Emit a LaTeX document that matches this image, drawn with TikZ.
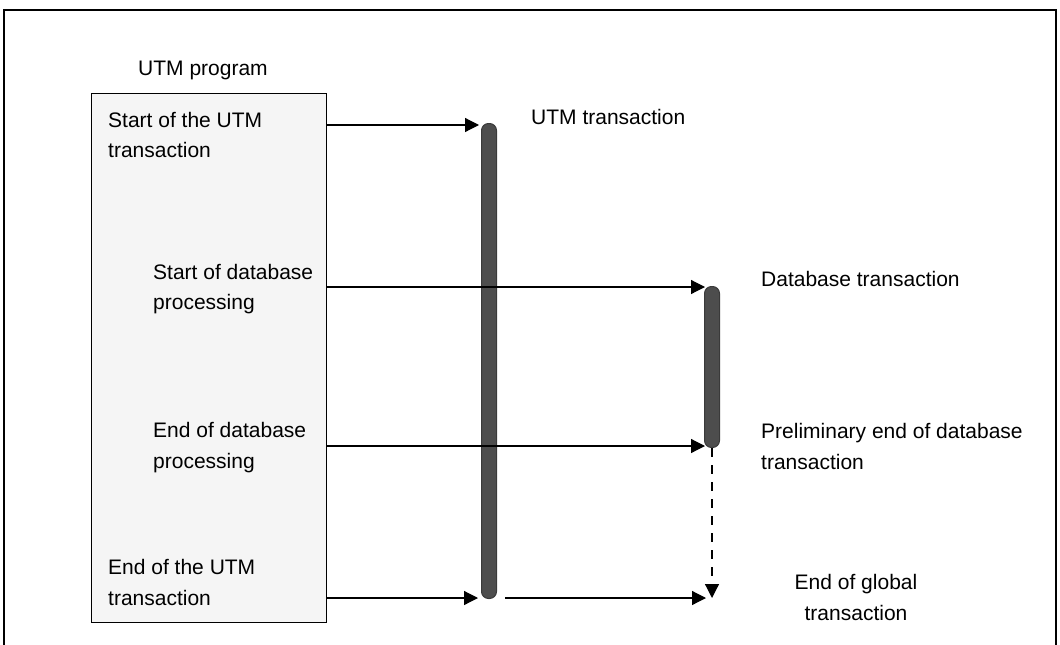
\documentclass[tikz,border=0pt]{standalone}
\usepackage{fontspec}
\setmainfont{Liberation Sans}
\usetikzlibrary{arrows.meta}
\definecolor{boxfill}{HTML}{F5F5F5}
\definecolor{barfill}{HTML}{4D4D4D}
\definecolor{barline}{HTML}{3A3A3A}
\begin{document}
\begin{tikzpicture}[x=1pt,y=-1pt,
  lbl/.style={inner sep=0pt, font=\fontsize{21}{30.5}\selectfont, align=left},
  bar/.style={draw=barline, fill=barfill, line width=1pt, rounded corners=7pt, minimum width=15pt, inner sep=0pt},
  arr/.style={line width=1.2pt, -{Triangle[length=14pt,width=14pt]}},
  darr/.style={arr, dash pattern=on 9pt off 8pt}
]
\useasboundingbox (0,0) rectangle (1060,645);
\draw[line width=1.2pt] (4,660) -- (4,10) -- (1056,10) -- (1056,660);
\node[draw, line width=1.2pt, fill=boxfill, minimum width=235pt, minimum height=529pt, anchor=north west, inner sep=0pt] (prog) at (91,93) {};
\node[bar, minimum height=475pt, anchor=north] (utm) at (489,123) {};
\node[bar, minimum height=161pt, anchor=north] (db) at (712,286) {};
% texts
\node[lbl, anchor=base west] (tprog) at (138,75) {UTM program};
\node[lbl, anchor=base west] (t1) at (108,157.5) {Start of the UTM\\transaction};
\node[lbl, anchor=base west] (t2) at (153,309.5) {Start of database\\processing};
\node[lbl, anchor=base west] (t3) at (153,468) {End of database\\processing};
\node[lbl, anchor=base west] (t4) at (108,605) {End of the UTM\\transaction};
\node[lbl, anchor=base west] (tutm) at (531,124) {UTM transaction};
\node[lbl, anchor=base west] (tdb) at (761,286) {Database transaction};
\node[lbl, anchor=base west] (tpre) at (761,469) {Preliminary end of database\\transaction};
\node[lbl, anchor=base, align=center] (tglob) at (856,620) {End of global\\transaction};
% connectors
\coordinate (a1) at (326,125);
\coordinate (b1) at (479,125);
\coordinate (a2) at (326,287);
\coordinate (b2) at (705,287);
\coordinate (a3) at (326,446);
\coordinate (b3) at (705,446);
\coordinate (a4) at (326,598);
\coordinate (b4) at (478,598);
\coordinate (a5) at (505,598);
\coordinate (b5) at (706,598);
\coordinate (d5) at (712,598);
\draw[arr] (a1) -- (b1);
\draw[arr] (a2) -- (b2);
\draw[arr] (a3) -- (b3);
\draw[arr] (a4) -- (b4);
\draw[arr] (a5) -- (b5);
\draw[darr] (db.south) -- (d5);
\end{tikzpicture}
\end{document}
